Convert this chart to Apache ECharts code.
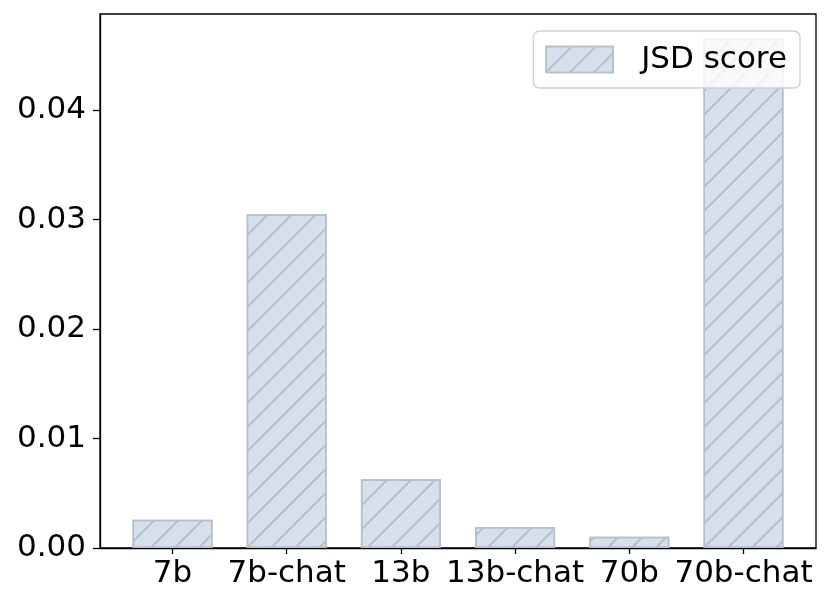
<!DOCTYPE html>
<html>
<head>
<meta charset="utf-8">
<script src="https://cdn.jsdelivr.net/npm/echarts@6/dist/echarts.min.js"></script>
<style>
html,body{margin:0;padding:0;background:#fff;}
#c{width:831px;height:608px;}
</style>
</head>
<body>
<div id="c"></div>
<script>
const categories = ['7b', '7b-chat', '13b', '13b-chat', '70b', '70b-chat'];
const jsdScores = [0.00258, 0.0305, 0.00628, 0.00193, 0.00102, 0.0466];
const yTicks = [0, 0.01, 0.02, 0.03, 0.04];
const seriesName = 'JSD score';

const chart = echarts.init(document.getElementById('c'), null, {renderer: 'canvas'});
const font = 'DejaVu Sans';
const idx = categories.map((_, i) => i);

chart.setOption({
  animation: false,
  backgroundColor: '#ffffff',
  grid: {
    left: 100, right: 15, top: 14, bottom: 60,
    show: true, borderColor: '#000', borderWidth: 1.3, backgroundColor: 'transparent'
  },
  legend: {
    data: [seriesName],
    right: 31, top: 31,
    orient: 'horizontal',
    icon: 'rect',
    itemWidth: 67, itemHeight: 26,
    padding: [13, 13, 13, 12],
    backgroundColor: 'rgba(255,255,255,0.8)',
    borderColor: '#d0d0d0', borderWidth: 1.3, borderRadius: 6,
    textStyle: {fontFamily: font, fontSize: 31, color: '#000', padding: [0, 0, 0, 23]},
    itemStyle: {borderColor: '#b6bfc9', borderWidth: 1.5}
  },
  xAxis: {
    type: 'value',
    min: -0.635, max: 5.635,
    splitLine: {show: false},
    axisLine: {show: true, onZero: false, lineStyle: {color: '#000', width: 1.3}},
    axisTick: {show: true, customValues: idx, length: 6, lineStyle: {color: '#000', width: 1.3}},
    axisLabel: {
      customValues: idx,
      formatter: v => categories[Math.round(v)],
      fontFamily: font, fontSize: 31, color: '#000', margin: 10
    }
  },
  yAxis: {
    type: 'value',
    min: 0, max: 0.0488,
    interval: 0.01,
    splitLine: {show: false},
    axisLine: {show: true, onZero: false, lineStyle: {color: '#000', width: 1.3}},
    axisTick: {show: true, customValues: yTicks, length: 7, lineStyle: {color: '#000', width: 1.3}},
    axisLabel: {
      customValues: yTicks,
      formatter: v => v.toFixed(2),
      fontFamily: font, fontSize: 31, color: '#000', margin: 14
    }
  },
  series: [{
    name: seriesName,
    type: 'bar',
    barWidth: 80,
    data: jsdScores.map((v, i) => [i, v]),
    itemStyle: {
      color: '#d6e0ec',
      borderColor: '#b6bfc9',
      borderWidth: 1.5,
      decal: {
        symbol: 'rect',
        symbolSize: 1,
        color: '#b6bfc9',
        dashArrayX: [1, 0],
        dashArrayY: [2, 15],
        rotation: -Math.PI / 4
      }
    }
  }]
});
</script>
</body>
</html>
